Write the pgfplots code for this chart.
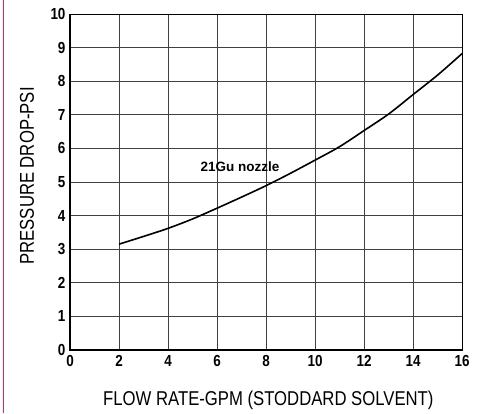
\documentclass[border=0pt]{standalone}
\usepackage{fontspec}
\setmainfont{Liberation Sans}
\newfontfamily\narrowfont[FakeStretch=0.84]{Liberation Sans}
\newfontfamily\labfont[FakeStretch=0.835]{Liberation Sans}
\usepackage{pgfplots}
\pgfplotsset{compat=1.18}
\definecolor{pinkline}{RGB}{214,40,90}
\begin{document}
\begin{tikzpicture}
\begin{axis}[
  scale only axis,
  width=392pt, height=336pt,
  xmin=0, xmax=16, ymin=0, ymax=10,
  xtick={0,2,...,16}, ytick={0,1,...,10},
  grid=major,
  major grid style={black!75, line width=0.9pt},
  major tick length=0pt,
  axis line style={black, line width=0.8pt},
  /pgf/number format/assume math mode=true,
  tick label style={font=\narrowfont\bfseries\fontsize{16}{18}\selectfont},
  xticklabel style={yshift=-2pt},
  yticklabel style={xshift=-1pt},
  xlabel={FLOW RATE-GPM (STODDARD SOLVENT)},
  ylabel={PRESSURE DROP-PSI},
  label style={font=\labfont\fontsize{20}{22}\selectfont},
  xlabel style={at={(rel axis cs:0.506,0)}, anchor=center, yshift=-50pt},
  ylabel style={at={(rel axis cs:0,0.518)}, anchor=center, yshift=43pt},
  clip=false,
]
\addplot[black, line width=1.6pt, smooth] coordinates {
(2,3.15) (3,3.38) (4,3.62) (5,3.9) (6,4.22) (7,4.55) (8,4.89) (9,5.26)
(10,5.65) (11,6.05) (12,6.53) (13,7.02) (14,7.6) (15,8.18) (16,8.82)
};
\node[font=\bfseries\fontsize{13.5}{15}\selectfont] at (axis cs:6.94,5.45) {21Gu nozzle};
\draw[black, line width=2pt] (rel axis cs:0,1) -- (rel axis cs:0,0) -- (rel axis cs:1,0);
\end{axis}
\draw[pinkline, line width=1.2pt] (-66.5pt,-63pt) -- (-66.5pt,350pt);
\pgfresetboundingbox
\path[use as bounding box] (-70pt,-63pt) rectangle (409pt,350pt);
\end{tikzpicture}
\end{document}
